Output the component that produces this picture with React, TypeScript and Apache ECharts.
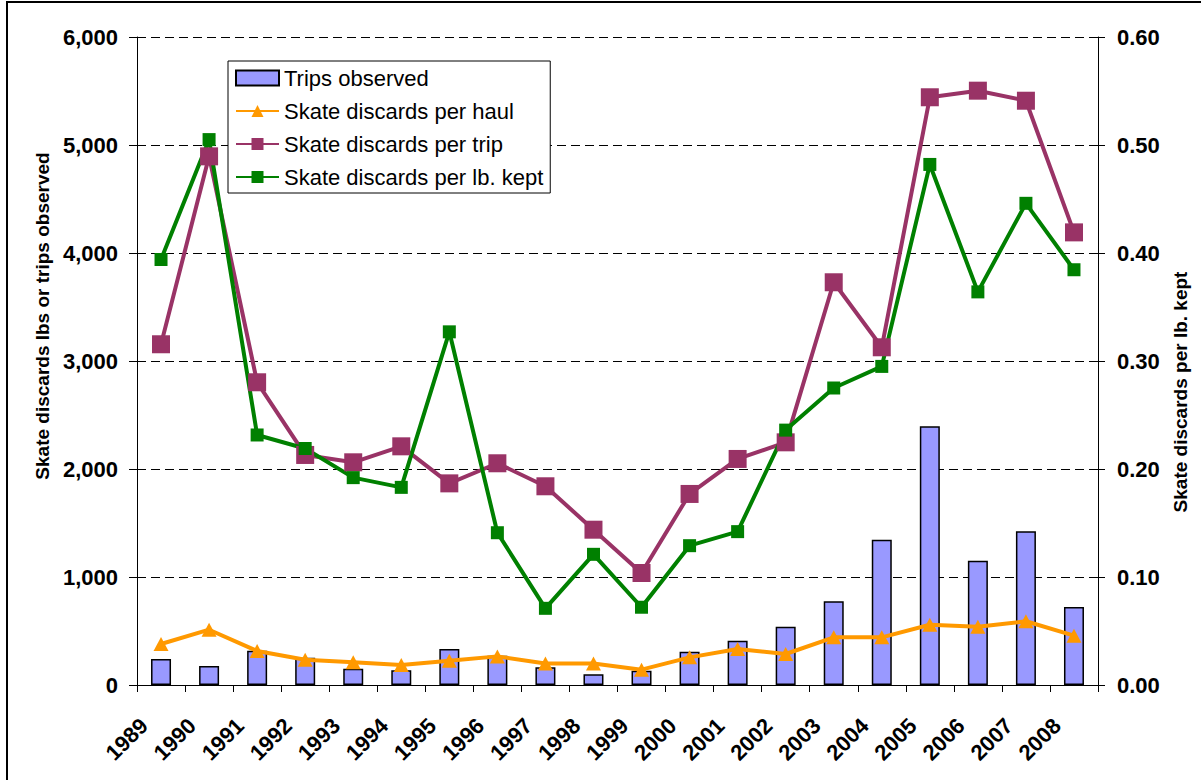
import React, { useEffect, useRef } from "react";
import * as echarts from "echarts";

const years = ["1989","1990","1991","1992","1993","1994","1995","1996","1997","1998","1999","2000","2001","2002","2003","2004","2005","2006","2007","2008"];
const tripsObserved = [240, 176, 318, 253, 151, 136, 333, 270, 164, 99, 133, 308, 410, 540, 775, 1345, 2395, 1151, 1423, 722];
const discardsPerHaul = [380, 512, 315, 234, 210, 185, 225, 265, 200, 200, 142, 256, 333, 287, 441, 441, 558, 540, 590, 457];
const discardsPerTrip = [3155, 4895, 2803, 2130, 2062, 2210, 1867, 2053, 1840, 1438, 1037, 1769, 2093, 2247, 3729, 3127, 5442, 5503, 5410, 4191];
const discardsPerLbKept = [0.394, 0.505, 0.2315, 0.219, 0.192, 0.183, 0.327, 0.141, 0.071, 0.121, 0.072, 0.129, 0.142, 0.236, 0.275, 0.295, 0.482, 0.364, 0.446, 0.3845];

const leftTitle = "Skate discards lbs or trips observed";
const rightTitle = "Skate discards per lb. kept";

const FONT = "'Liberation Sans', Arial, sans-serif";

export default function App() {
  const ref = useRef<HTMLDivElement>(null);
  useEffect(() => {
    if (!ref.current) return;
    const chart = echarts.init(ref.current, null, { renderer: "svg" });
    const tickLabel = { fontSize: 22, fontWeight: "bold", color: "#000", fontFamily: FONT };
    chart.setOption({
      animation: false,
      backgroundColor: "#fff",
      textStyle: { fontFamily: FONT },
      grid: { left: 137, right: 103, top: 37, bottom: 95 },
      legend: {
        orient: "vertical",
        left: 228,
        top: 61,
        padding: [5, 7, 4, 7],
        itemGap: 9,
        itemWidth: 43,
        itemHeight: 15,
        borderColor: "#000",
        borderWidth: 1,
        backgroundColor: "#fff",
        textStyle: { fontSize: 22, color: "#000", fontFamily: FONT, lineHeight: 24 },
        data: [
          { name: "Trips observed", icon: "rect" },
          "Skate discards per haul",
          "Skate discards per trip",
          "Skate discards per lb. kept",
        ],
      },
      xAxis: {
        type: "category",
        data: years,
        boundaryGap: true,
        axisLine: { lineStyle: { color: "#000", width: 1 } },
        axisTick: { show: true, length: 7, lineStyle: { color: "#000" } },
        axisLabel: { ...tickLabel, rotate: 45, interval: 0, margin: 20, padding: [0, 24, 0, 0] },
      },
      yAxis: [
        {
          type: "value",
          min: 0,
          max: 6000,
          interval: 1000,
          axisLine: { show: true, lineStyle: { color: "#000", width: 1 } },
          axisTick: { show: true, length: 8, lineStyle: { color: "#000" } },
          axisLabel: { ...tickLabel, margin: 19, formatter: (v: number) => v.toLocaleString("en-US") },
          splitLine: { show: true, lineStyle: { color: "#000", width: 1, type: [9, 5] } },
        },
        {
          type: "value",
          position: "right",
          min: 0,
          max: 0.6,
          interval: 0.1,
          axisLine: { show: true, lineStyle: { color: "#000", width: 1 } },
          axisTick: { show: true, length: 7, lineStyle: { color: "#000" } },
          axisLabel: { ...tickLabel, margin: 19, formatter: (v: number) => v.toFixed(2) },
          splitLine: { show: false },
        },
      ],
      series: [
        {
          name: "Trips observed",
          type: "bar",
          yAxisIndex: 0,
          data: tripsObserved,
          barWidth: 20,
          itemStyle: { color: "#9999FF", borderColor: "#000", borderWidth: 1.5 },
        },
        {
          name: "Skate discards per haul",
          type: "line",
          yAxisIndex: 0,
          data: discardsPerHaul,
          symbol: "triangle",
          symbolSize: [15, 14],
          lineStyle: { color: "#FF9900", width: 4 },
          itemStyle: { color: "#FF9900" },
        },
        {
          name: "Skate discards per trip",
          type: "line",
          yAxisIndex: 0,
          data: discardsPerTrip,
          symbol: "rect",
          symbolSize: 18,
          lineStyle: { color: "#993366", width: 4 },
          itemStyle: { color: "#993366" },
        },
        {
          name: "Skate discards per lb. kept",
          type: "line",
          yAxisIndex: 1,
          data: discardsPerLbKept,
          symbol: "rect",
          symbolSize: 13,
          lineStyle: { color: "#008000", width: 4 },
          itemStyle: { color: "#008000" },
        },
      ],
      graphic: [
        {
          type: "rect",
          silent: true,
          shape: { x: 7, y: 2, width: 1260, height: 850 },
          style: { fill: "none", stroke: "#000", lineWidth: 2 },
        },
        {
          type: "text",
          x: 42,
          y: 316,
          rotation: Math.PI / 2,
          style: { text: leftTitle, fontSize: 19, fontWeight: "bold", fill: "#000", fontFamily: FONT, align: "center", verticalAlign: "middle" },
        },
        {
          type: "text",
          x: 1180,
          y: 392,
          rotation: Math.PI / 2,
          style: { text: rightTitle, fontSize: 19, fontWeight: "bold", fill: "#000", fontFamily: FONT, align: "center", verticalAlign: "middle" },
        },
      ],
    });
    return () => chart.dispose();
  }, []);
  return <div ref={ref} style={{ position: "absolute", left: 0, top: 0, width: 1201, height: 780 }} />;
}
